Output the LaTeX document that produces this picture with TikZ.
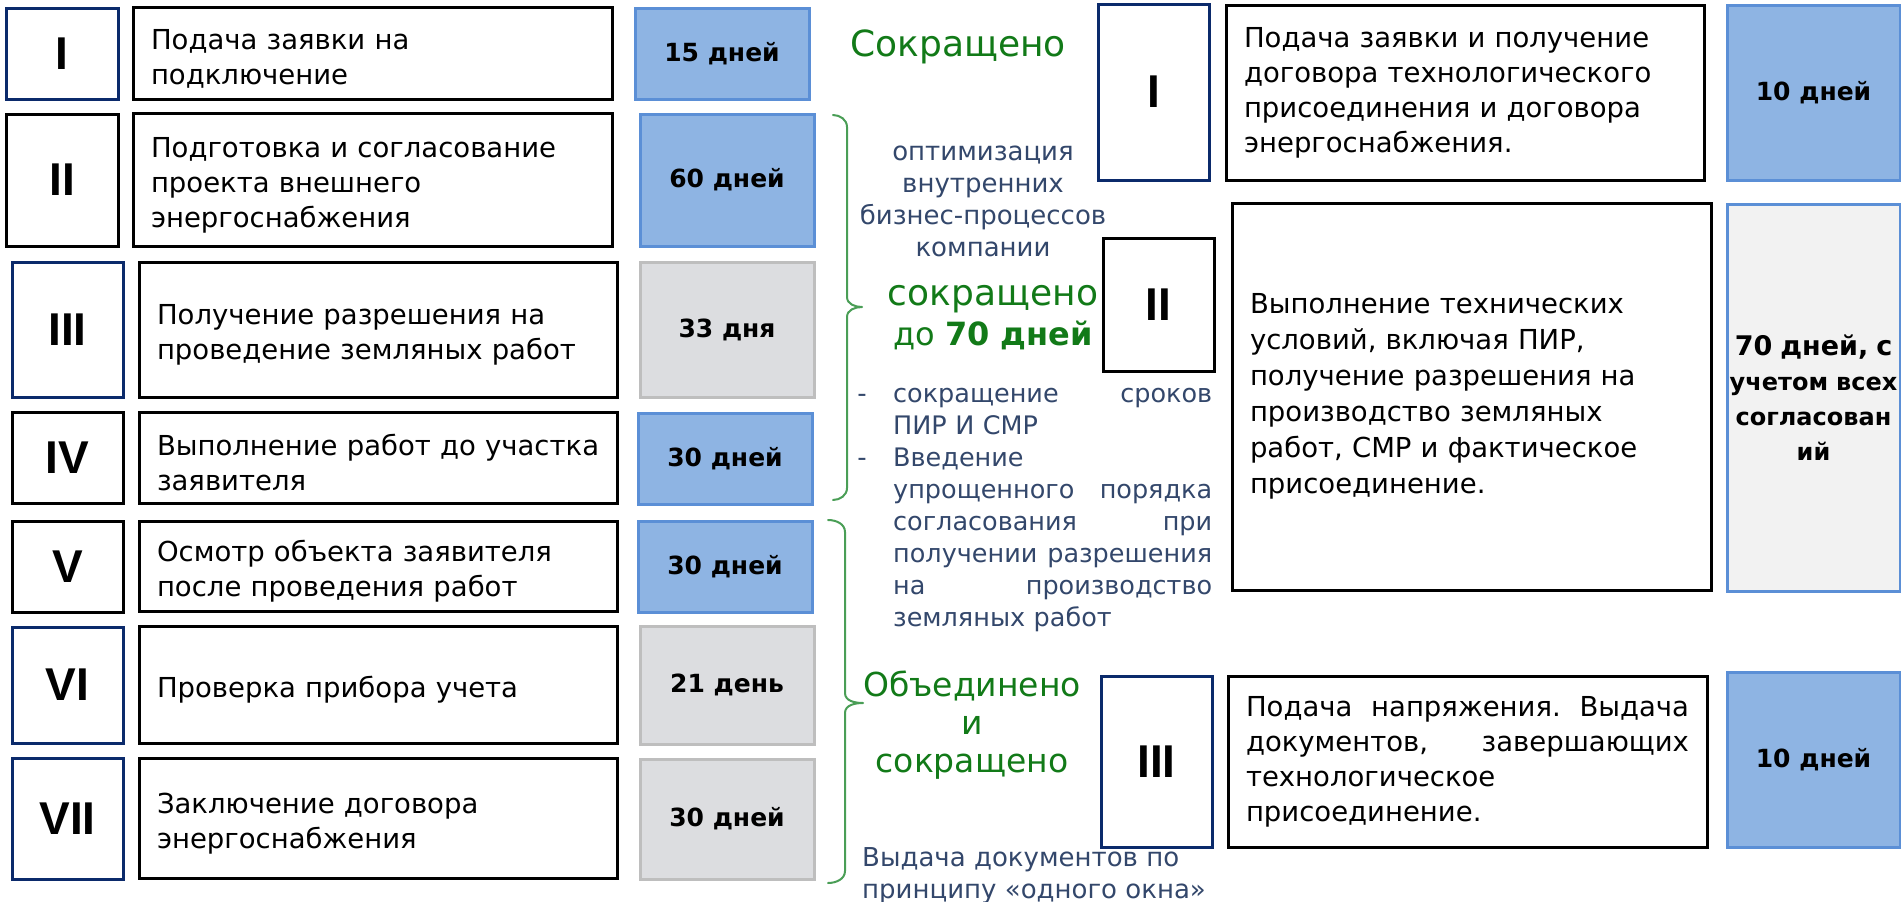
\documentclass[tikz,border=0pt]{standalone}
\usepackage{fontspec}
\setmainfont{DejaVu Sans}
\newfontfamily\numfont{Liberation Sans}
\definecolor{navy}{HTML}{0B2A6B}
\definecolor{bluefill}{HTML}{8EB4E3}
\definecolor{bluestroke}{HTML}{5B8FD6}
\definecolor{grayfill}{HTML}{DCDDE0}
\definecolor{graystroke}{HTML}{BEBEBE}
\definecolor{lightfill}{HTML}{F2F2F2}
\definecolor{gtext}{HTML}{127A18}
\definecolor{bracecol}{HTML}{4A9E56}
\definecolor{slate}{HTML}{33476B}
\newcommand\jline[2]{\leavevmode\hbox to #1{#2}}
\begin{document}
\begin{tikzpicture}[x=1pt,y=-1pt,
  numbox/.style={draw=navy, line width=3pt, fill=white, inner sep=0pt,
    font=\numfont\bfseries\fontsize{46}{46}\selectfont},
  numboxk/.style={numbox, draw=black},
  txtbox/.style={draw=black, line width=3pt, fill=white, align=left,
    inner xsep=18pt, inner ysep=0pt, font=\fontsize{27.5}{35}\selectfont},
  lbox/.style={txtbox, execute at begin node={\rule{0pt}{31pt}}},
  daysblue/.style={draw=bluestroke, fill=bluefill, line width=3pt, inner sep=0pt,
    font=\bfseries\fontsize{25}{30}\selectfont},
  daysgray/.style={daysblue, draw=graystroke, fill=grayfill},
  greentxt/.style={text=gtext, inner sep=0pt, align=center},
  slatetxt/.style={text=slate, inner sep=0pt, font=\fontsize{26}{32}\selectfont},
  bracket/.style={draw=bracecol, line width=2pt, line cap=round, line join=round}
]
\useasboundingbox (0,0) rectangle (1901,902);

% ---------- left column ----------
\node[numbox,  minimum width=112, minimum height=91]  (n1) at (62,53.5) {I};
\node[lbox,    minimum width=479, minimum height=92, text width=443] (t1) at (372.5,53) {Подача заявки на\\подключение};
\node[daysblue,minimum width=174, minimum height=91]  (d1) at (722,53.5) {15 дней};

\node[numboxk, minimum width=112, minimum height=132] (n2) at (62,180) {II};
\node[lbox,    minimum width=479, minimum height=133, text width=443] (t2) at (372.5,179.5) {Подготовка и согласование\\проекта внешнего\\энергоснабжения};
\node[daysblue,minimum width=174, minimum height=132] (d2) at (727,180) {60 дней};

\node[numbox,  minimum width=111, minimum height=135] (n3) at (67.5,329.5) {III};
\node[lbox,    minimum width=478, minimum height=135, text width=442] (t3) at (378,329.5) {Получение разрешения на\\проведение земляных работ};
\node[daysgray,minimum width=174, minimum height=135] (d3) at (727,329.5) {33 дня};

\node[numboxk, minimum width=111, minimum height=91]  (n4) at (67.5,457.5) {IV};
\node[lbox,    minimum width=478, minimum height=91, text width=442] (t4) at (378,457.5) {\mbox{Выполнение работ до участка}\\заявителя};
\node[daysblue,minimum width=174, minimum height=91]  (d4) at (725,458.5) {30 дней};

\node[numboxk, minimum width=111, minimum height=91]  (n5) at (67.5,566.5) {V};
\node[lbox,    minimum width=478, minimum height=90, text width=442] (t5) at (378,566) {Осмотр объекта заявителя\\после проведения работ};
\node[daysblue,minimum width=174, minimum height=91]  (d5) at (725,566.5) {30 дней};

\node[numbox,  minimum width=111, minimum height=116] (n6) at (67.5,685) {VI};
\node[lbox,    minimum width=478, minimum height=117, text width=442] (t6) at (378,684.5) {Проверка прибора учета};
\node[daysgray,minimum width=174, minimum height=118] (d6) at (727,685) {21 день};

\node[numbox,  minimum width=111, minimum height=121] (n7) at (67.5,818.5) {VII};
\node[lbox,    minimum width=478, minimum height=120, text width=442] (t7) at (378,818) {Заключение договора\\энергоснабжения};
\node[daysgray,minimum width=174, minimum height=120] (d7) at (727,819) {30 дней};

% ---------- right column ----------
\node[numbox,  minimum width=111, minimum height=176] (r1) at (1153.5,92) {I};
\node[txtbox,  minimum width=478, minimum height=175, text width=442] (rt1) at (1465,92.5) {Подача заявки и получение\\договора технологического\\присоединения и договора\\энергоснабжения.};
\node[daysblue,minimum width=173, minimum height=175] (rd1) at (1813.5,92.5) {10 дней};

\node[numboxk, minimum width=111, minimum height=133] (r2) at (1158.5,304.5) {II};
\node[txtbox,  minimum width=479, minimum height=387, text width=443, font=\fontsize{27.5}{36}\selectfont] (rt2) at (1471.5,396.5) {Выполнение технических\\условий, включая ПИР,\\получение разрешения на\\производство земляных\\работ, СМР и фактическое\\присоединение.};
\node[daysblue, fill=lightfill, minimum width=173, minimum height=387, text width=170, align=center,
      font=\bfseries\fontsize{24}{35}\selectfont] (rd2) at (1813.5,398)
      {{\fontsize{27}{35}\selectfont 70 дней, с}\\учетом всех\\согласован\\ий};

\node[numbox,  minimum width=111, minimum height=171] (r3) at (1156.5,761.5) {III};
\node[txtbox,  minimum width=479, minimum height=171, text width=443] (rt3) at (1467.5,761.5)
  {\jline{443pt}{Подача\hfill напряжения.\hfill Выдача}\\\jline{443pt}{документов,\hfill завершающих}\\технологическое\\присоединение.};
\node[daysblue,minimum width=173, minimum height=175] (rd3) at (1813.5,759.5) {10 дней};

% ---------- middle annotations ----------
\node[greentxt, font=\fontsize{36}{40}\selectfont] (s1) at (958,47) {Сокращено};

\node[slatetxt, align=center] (opt) at (983,201) {оптимизация\\внутренних\\бизнес-процессов\\компании};

\node[greentxt, font=\fontsize{36}{40}\selectfont] (s2) at (993,318) {сокращено\\{\fontsize{32}{40}\selectfont до \textbf{70 дней}}};

\node[slatetxt, align=left, text width=319, anchor=north west, font=\fontsize{25.5}{32}\selectfont] (lst) at (893,388)
  {\jline{319pt}{сокращение\hfill сроков}\\ПИР И СМР\\Введение\\\jline{319pt}{упрощенного\hfill порядка}\\\jline{319pt}{согласования\hfill при}\\\jline{319pt}{получении\hfill разрешения}\\\jline{319pt}{на\hfill производство}\\земляных работ};
\node[slatetxt] (dash1) at (862,398) {-};
\node[slatetxt] (dash2) at (862,462) {-};

\node[greentxt, font=\fontsize{33}{38}\selectfont] (s3) at (972,725) {Объединено\\и\\сокращено};

\node[slatetxt, align=left, anchor=west] (win) at (862,876) {Выдача документов по\\принципу «одного окна»};

% ---------- braces ----------
\draw[bracket] (833,115) to[out=0,in=90] (847,127) -- (847,297) to[out=-90,in=180] (862,307)
  to[out=180,in=90] (847,317) -- (847,488) to[out=-90,in=0] (833,500);
\draw[bracket] (828,520) to[out=0,in=90] (845,532) -- (845,693) to[out=-90,in=180] (863,703)
  to[out=180,in=90] (845,713) -- (845,871) to[out=-90,in=0] (828,883);
\end{tikzpicture}
\end{document}
